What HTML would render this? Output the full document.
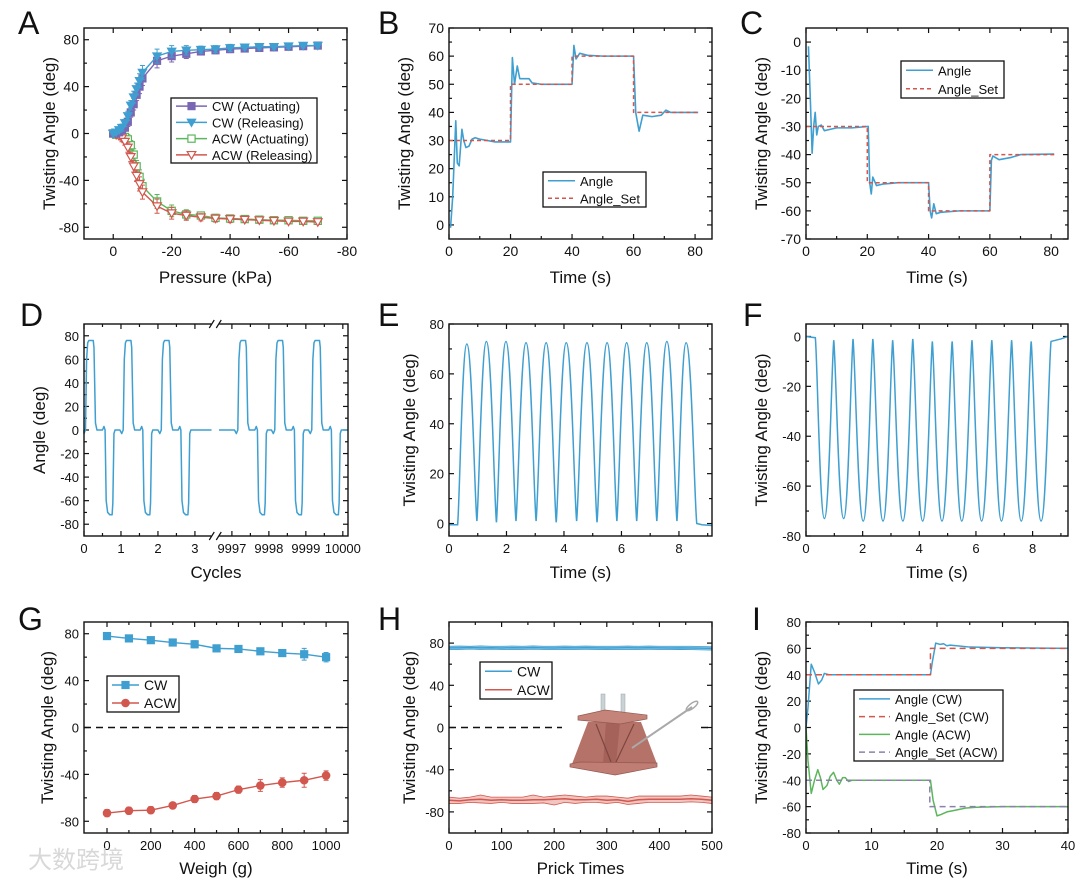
<!DOCTYPE html>
<html><head><meta charset="utf-8">
<style>
html,body{margin:0;padding:0;background:#fff;}
svg{display:block;font-family:"Liberation Sans","Noto Sans CJK SC",sans-serif;}
</style></head>
<body>
<svg id="fig" width="1080" height="883" viewBox="0 0 1080 883" xmlns="http://www.w3.org/2000/svg"></svg>
<script>
// ---------- DATA ----------
// A
const aP=[0,-1,-2,-3,-4,-5,-6,-7,-8,-9,-10,-15,-20,-25,-30,-35,-40,-45,-50,-55,-60,-65,-70];
const aCWact=[0,0,1,3,5,10,18,25,33,40,47,62,66,68,70,71,72,72.5,73,73.5,74,74.5,75];
const aCWrel=[0,1,3,5,9,15,24,31,38,45,52,66,70,71,71.5,72,73,73.5,74,74,74.5,75,75];
const aACWact=[0,-1,-1,-2,-3,-5,-10,-18,-28,-37,-45,-58,-66,-69,-70,-72,-72.5,-73,-73.5,-74,-74,-74.5,-74.5];
const aACWrel=[0,-1,-2,-4,-7,-12,-20,-28,-36,-43,-50,-62,-68,-70,-71.5,-72.5,-73,-73.5,-74,-74.5,-75,-75,-75.5];
const aErr=[1,1,2,3,3,4,4,5,5,6,6,6,5,4,3,3,3,2,2,2,2,2,2];
// B
const bT=[0.5,1.2,2.2,2.7,3.3,4.2,4.8,5.5,6.5,7.5,8.5,10,15,20,20.6,21.3,22.2,23,26,27,30,40,40.6,41.3,42.5,45,50,60,60.7,61.8,63,66,69,70.5,72,81];
const bV=[-1,10,37,22,21,34,30,27.5,28,30.5,31,30.5,29.5,29.5,59.5,50,56.5,52,52,50.5,50,50,63.8,59,61,60.3,60,60,40,33.3,39,38.5,39,40.8,40,40];
const bSetT=[0,20,20,40,40,60,60,81];
const bSetV=[30,30,50,50,60,60,40,40];
// C
const cT=[0.8,1.4,2,2.5,3,3.5,4,5,6,8,10,15,20.3,20.8,21.3,21.8,23,25,30,40,40.5,41,41.7,42.5,44,50,60,60.5,61,63,67,70,81];
const cV=[-1.5,-20,-39.5,-30,-25,-33,-30,-29.5,-31.5,-31,-30.5,-30.5,-30,-50,-54,-48,-51,-50.5,-50,-50,-60,-62.5,-57.5,-61,-60.5,-60,-60,-42,-40.5,-41.8,-41,-40,-39.8];
const cSetT=[0,20,20,40,40,60,60,81];
const cSetV=[-30,-30,-50,-50,-60,-60,-40,-40];
// D
const dStart=[0,1.02,2.05,9997.12,9998.12,9999.12];
const dPos=[76,76,76,76,76,76];
const dNeg=[-72,-72,-72,-72,-72,-72];
const dXTicks=[0,1,2,3,9997,9998,9999,10000];
// E
const ePeakT=[0.62,1.3,1.98,2.68,3.38,4.08,4.8,5.5,6.18,6.88,7.58,8.25];
const ePeakV=[72,73,73,72.5,72.5,72.5,72.5,72.5,72.5,72.5,73,72.5];
const eTroughT=[0.97,1.65,2.33,3.03,3.73,4.44,5.15,5.84,6.53,7.23,7.93];
const eTroughV=[1,0.5,1,1,0.5,1,0.5,1,1,1,1];
// F
const fTroughT=[0.65,1.33,2.02,2.72,3.42,4.12,4.8,5.5,6.2,6.9,7.6,8.3];
const fTroughV=[-73,-73,-74,-74,-74,-74,-74,-74,-74,-74,-74,-74];
const fPeakT=[0.98,1.66,2.36,3.06,3.77,4.46,5.16,5.86,6.56,7.26,7.95];
const fPeakV=[-1.5,-1,-1,-1.5,-1,-2,-2,-1.5,-1.5,-1.5,-2];
// G
const gW=[0,100,200,300,400,500,600,700,800,900,1000];
const gCW=[78,76,74.5,72.5,71,67.5,67,65,63.5,62.5,60];
const gCWerr=[2,2,2,3,3,2,2,2,2,5,4];
const gACW=[-73,-71,-70.5,-66.5,-61,-58.5,-53,-49.5,-47,-45,-41];
const gACWerr=[3,3,3,2,3,3,3,5,4,6,4];
// H
const hX=[0,20,40,60,80,100,120,140,160,180,200,220,240,260,280,300,320,340,360,380,400,420,440,460,480,500];
const hCW=[75.5,75.5,75.8,75.5,75.6,75.4,75.6,75.5,75.7,75.5,75.4,75.6,75.5,75.6,75.5,75.4,75.5,75.6,75.5,75.6,75.5,75.4,75.5,75.3,75.2,75];
const hCWhi=[77,77.2,77,77.3,77,77,77.2,77,77.3,77,77,77.2,77,77.2,77,77,77,77.2,77,77.2,77,77,77,77,76.8,76.5];
const hCWlo=[74,74,74.3,74,74.2,74,74,74,74.2,74,73.8,74,74,74.1,74,73.9,74,74,74,74.1,74,73.8,74,73.8,73.6,73.4];
const hACW=[-69,-69.5,-68.5,-68,-69,-68.5,-69,-69,-68.5,-68.5,-68,-67.5,-68.5,-68.5,-68,-69,-68.5,-70,-68.5,-68,-68,-68,-68,-67.5,-68,-69];
const hACWhi=[-66,-67,-66,-64,-66,-66,-66,-66,-64,-66,-65,-64,-65,-66,-65,-65,-66,-67,-65,-65,-65,-65,-65,-64,-65,-66];
const hACWlo=[-72,-72,-71,-71.5,-72,-71,-72,-72,-72,-71.5,-73.5,-71,-72,-71,-71,-72,-71,-73,-72,-71,-71,-71,-71,-70.5,-71,-72];
// I
const iCWt=[0,0.3,0.8,1.3,1.9,2.4,2.8,3.5,5,10,19,19.3,19.8,20.5,21,21.5,22,23,25,30,40];
const iCWv=[0,15,48,42,33,36,41,40,40,40,40,50,64,63,63.5,62,62.5,62,61,60.5,60];
const iCWsetT=[0,19,19,40];
const iCWsetV=[40,40,60,60];
const iACWt=[0,0.3,0.8,1.3,1.8,2.2,2.6,3.2,3.7,4.2,4.7,5.1,5.6,6,6.5,7,10,19,19.4,20,20.6,21.5,22.5,23.5,24.5,26,30,40];
const iACWv=[0,-25,-50,-40,-32,-38,-47,-44,-37,-34,-40,-43,-38,-38,-41,-40,-40,-40,-55,-67,-66,-64,-63,-62,-61,-60.5,-60,-60];
const iACWsetT=[0,18.9,18.9,40];
const iACWsetV=[-40,-40,-60,-60];

// ---------- HELPERS ----------
const NS='http://www.w3.org/2000/svg';
const svg=document.getElementById('fig');
const BLUE='#3f9fd0',RED='#d2574e',GREEN='#5cb65c',PURPLE='#7a67b3',GRAYP='#8c80ad';
function mk(tag,attrs,parent){const e=document.createElementNS(NS,tag);for(const k in attrs)e.setAttribute(k,attrs[k]);(parent||svg).appendChild(e);return e;}
function txt(s,x,y,size,anchor,parent,extra){const t=mk('text',Object.assign({x:x,y:y,'font-size':size,'text-anchor':anchor||'middle',fill:'#111'},extra||{}),parent);t.textContent=s;return t;}

function axes(id,box,xd,yd,o){
  const g=mk('g',{});
  
  
  const sx=v=>box.l+(v-xd[0])/(xd[1]-xd[0])*(box.r-box.l);
  const sy=v=>box.b-(v-yd[0])/(yd[1]-yd[0])*(box.b-box.t);
  const fs=o.fs||14;
  const ticks=mk('g',{stroke:'#111','stroke-width':1.2},g);
  
  
  (o.xMaj||[]).forEach(v=>{const x=sx(v);mk('line',{x1:x,x2:x,y1:box.b,y2:box.b-5},ticks);mk('line',{x1:x,x2:x,y1:box.t,y2:box.t+5},ticks);});
  (o.xMin||[]).forEach(v=>{const x=sx(v);mk('line',{x1:x,x2:x,y1:box.b,y2:box.b-3},ticks);mk('line',{x1:x,x2:x,y1:box.t,y2:box.t+3},ticks);});
  (o.yMaj||[]).forEach(v=>{const y=sy(v);mk('line',{x1:box.l,x2:box.l+5,y1:y,y2:y},ticks);mk('line',{x1:box.r,x2:box.r-5,y1:y,y2:y},ticks);});
  (o.yMin||[]).forEach(v=>{const y=sy(v);mk('line',{x1:box.l,x2:box.l+3,y1:y,y2:y},ticks);mk('line',{x1:box.r,x2:box.r-3,y1:y,y2:y},ticks);});
  (o.xMaj||[]).forEach((v,i)=>{const t=txt(o.xLabels?o.xLabels[i]:String(v),sx(v),box.b+17,fs,'middle',g);
    
    });
  (o.yMaj||[]).forEach(v=>{const t=txt(String(v),box.l-5,sy(v)+5,fs,'end',g);
    
    });
  const xt=txt(o.xTitle,(box.l+box.r)/2,o.xTitleY,17,'middle',g);
  
  
  const yc=(box.t+box.b)/2;
  const yt=txt(o.yTitle,o.yTitleX,yc,17,'middle',g,{transform:'rotate(-90 '+o.yTitleX+' '+yc+')'});
  
  
  const L=txt(id,o.letter[0],o.letter[1],32,'start',g);
  
  
  return {sx,sy,g,box};
}
function frame(p,id){const f=mk('rect',{x:p.box.l,y:p.box.t,width:p.box.r-p.box.l,height:p.box.b-p.box.t,fill:'none',stroke:'#111','stroke-width':1.4},p.g);
  
  }
function poly(p,xs,ys,stroke,w,dash,name){
  const d=xs.map((x,i)=>(i?'L':'M')+p.sx(x).toFixed(2)+','+p.sy(ys[i]).toFixed(2)).join('');
  const e=mk('path',{d:d,fill:'none',stroke:stroke,'stroke-width':w,'stroke-linejoin':'round'},p.g);
  if(dash)e.setAttribute('stroke-dasharray',dash);
  
  
  return e;
}
// square-ish wave: "flat" extremes wide and rounded, other extremes narrow but rounded
function wavePath(p,pts,isFlat){
  let d='';
  for(let i=1;i<pts.length;i++){const a=pts[i-1],b=pts[i];const dt=b[0]-a[0],dv=b[1]-a[1];
    let c1,c2;
    if(isFlat(b[1])&&!isFlat(a[1])){c1=[a[0]+dt*0.22,a[1]+dv*0.12];c2=[b[0]-dt*0.5,b[1]];}
    else if(isFlat(a[1])&&!isFlat(b[1])){c1=[a[0]+dt*0.5,a[1]];c2=[b[0]-dt*0.22,b[1]-dv*0.12];}
    else {c1=[a[0]+dt*0.45,a[1]];c2=[b[0]-dt*0.45,b[1]];}
    d+='C'+p.sx(c1[0]).toFixed(2)+','+p.sy(c1[1]).toFixed(2)+' '+p.sx(c2[0]).toFixed(2)+','+p.sy(c2[1]).toFixed(2)+' '+p.sx(b[0]).toFixed(2)+','+p.sy(b[1]).toFixed(2);}
  return d;
}
function legend(x,y,w,h,items,parent,id){
  const g=mk('g',{},parent);
  
  
  mk('rect',{x:x,y:y,width:w,height:h,fill:'#fff',stroke:'#111','stroke-width':1.3},g);
  const rh=h/items.length;
  items.forEach((it,i)=>{
    const cy=y+rh*(i+0.5);
    const ln=mk('line',{x1:x+5,x2:x+it.lw,y1:cy,y2:cy,stroke:it.c,'stroke-width':it.w||1.6},g);
    if(it.dash)ln.setAttribute('stroke-dasharray',it.dash);
    if(it.m)marker(it.m,x+5+(it.lw-5)/2,cy,it.c,g);
    const t=txt(it.t,x+it.lw+5,cy+5,it.fs||13,'start',g);
    
    
  });
}
function marker(type,x,y,c,parent){
  let e;const s=3.6;
  if(type==='sq')e=mk('rect',{x:x-s,y:y-s,width:2*s,height:2*s,fill:c,stroke:c},parent);
  else if(type==='osq')e=mk('rect',{x:x-s,y:y-s,width:2*s,height:2*s,fill:'#fff',stroke:c,'stroke-width':1.2},parent);
  else if(type==='tri')e=mk('polygon',{points:(x-4.3)+','+(y-3.3)+' '+(x+4.3)+','+(y-3.3)+' '+x+','+(y+4.2),fill:c,stroke:c},parent);
  else if(type==='otri')e=mk('polygon',{points:(x-4.3)+','+(y-3.3)+' '+(x+4.3)+','+(y-3.3)+' '+x+','+(y+4.2),fill:'#fff',stroke:c,'stroke-width':1.2},parent);
  else if(type==='circ')e=mk('circle',{cx:x,cy:y,r:3.8,fill:c,stroke:c},parent);
  return e;
}
function errSeries(p,xs,ys,errs,c,m,name){
  const g=mk('g',{},p.g);
  
  
  xs.forEach((x,i)=>{const X=p.sx(x),y1=p.sy(ys[i]-errs[i]),y2=p.sy(ys[i]+errs[i]);
    mk('path',{d:'M'+X+','+y1+'V'+y2+'M'+(X-2.5)+','+y1+'H'+(X+2.5)+'M'+(X-2.5)+','+y2+'H'+(X+2.5),stroke:c,'stroke-width':1,fill:'none'},g);});
  const d=xs.map((x,i)=>(i?'L':'M')+p.sx(x)+','+p.sy(ys[i])).join('');
  mk('path',{d:d,fill:'none',stroke:c,'stroke-width':1.4},g);
  xs.forEach((x,i)=>{const mm=marker(m,p.sx(x),p.sy(ys[i]),c,g);
    
    });
}

// ---------- PANEL A ----------
const pA=axes('A',{l:84,r:347,t:28,b:239},[10,-80],[-90,90],{fs:14,xMaj:[0,-20,-40,-60,-80],xMin:[-10,-30,-50,-70],yMaj:[-80,-40,0,40,80],yMin:[-60,-20,20,60],xTitle:'Pressure (kPa)',xTitleY:283,yTitle:'Twisting Angle (deg)',yTitleX:55,letter:[18,34]});
errSeries(pA,aP,aACWact,aErr,GREEN,'osq','series-acw-actuating');
errSeries(pA,aP,aACWrel,aErr,RED,'otri','series-acw-releasing');
errSeries(pA,aP,aCWact,aErr,PURPLE,'sq','series-cw-actuating');
errSeries(pA,aP,aCWrel,aErr,BLUE,'tri','series-cw-releasing');
legend(171,98,146,65,[{t:'CW (Actuating)',c:PURPLE,lw:36,m:'sq'},{t:'CW (Releasing)',c:BLUE,lw:36,m:'tri'},{t:'ACW (Actuating)',c:GREEN,lw:36,m:'osq'},{t:'ACW (Releasing)',c:RED,lw:36,m:'otri'}],pA.g,'A');
frame(pA,'A');

// ---------- PANEL B ----------
const pB=axes('B',{l:449,r:712,t:28,b:239},[0,85.5],[-5,70],{fs:14,xMaj:[0,20,40,60,80],xMin:[10,30,50,70],yMaj:[0,10,20,30,40,50,60,70],yMin:[5,15,25,35,45,55,65],xTitle:'Time (s)',xTitleY:283,yTitle:'Twisting Angle (deg)',yTitleX:410,letter:[378,34]});
poly(pB,bT,bV,BLUE,1.6,null,'series-angle-b');
poly(pB,bSetT,bSetV,RED,1.5,'4,3','series-angle-set-b');
legend(543,172,103,35,[{t:'Angle',c:BLUE,lw:32},{t:'Angle_Set',c:RED,lw:32,dash:'4,3'}],pB.g,'B');
frame(pB,'B');

// ---------- PANEL C ----------
const pC=axes('C',{l:806,r:1068,t:28,b:239},[0,85.5],[-70,5],{fs:14,xMaj:[0,20,40,60,80],xMin:[10,30,50,70],yMaj:[0,-10,-20,-30,-40,-50,-60,-70],yMin:[-5,-15,-25,-35,-45,-55,-65],xTitle:'Time (s)',xTitleY:283,yTitle:'Twisting Angle (deg)',yTitleX:767,letter:[740,34]});
poly(pC,cT,cV,BLUE,1.6,null,'series-angle-c');
poly(pC,cSetT,cSetV,RED,1.5,'4,3','series-angle-set-c');
legend(901,61,103,37,[{t:'Angle',c:BLUE,lw:32},{t:'Angle_Set',c:RED,lw:32,dash:'4,3'}],pC.g,'C');
frame(pC,'C');

// ---------- PANEL D ----------
const dU=c=>c>5000?c-9993:c;
const pD=axes('D',{l:84,r:348,t:324,b:536},[0,7.14],[-90,90],{fs:13,xMaj:dXTicks.map(dU),xLabels:dXTicks.map(String),xMin:[0.5,1.5,2.5,4.5,5.5,6.5],yMaj:[-80,-60,-40,-20,0,20,40,60,80],yMin:[-70,-50,-30,-10,10,30,50,70],xTitle:'Cycles',xTitleY:578,yTitle:'Angle (deg)',yTitleX:45,letter:[20,326]});
(function(){
  const tpl=[[-0.05,0],[0,-3],[0.04,0],[0.07,60],[0.1,74],[0.13,76],[0.25,76],[0.27,70],[0.31,6],[0.35,0],[0.5,0],[0.54,3],[0.57,0],[0.6,-60],[0.64,-70],[0.7,-72],[0.76,-72],[0.78,-62],[0.81,-3],[0.84,0]];
  function seg(a,b,idx){const pts=[[a,0]];idx.forEach(i=>{const s=dU(dStart[i]);tpl.forEach(q=>{const v=q[1]>0?q[1]*dPos[i]/76:q[1]*(-dNeg[i])/72;pts.push([s+q[0],v]);});});pts.push([b,0]);
    return pts.filter(q=>q[0]>=a&&q[0]<=b);}
  const s1=seg(0,3.45,[0,1,2]),s2=seg(3.65,7.14,[3,4,5]);
  poly(pD,s1.map(q=>q[0]),s1.map(q=>q[1]),BLUE,1.5,null,'series-angle-d-early');
  poly(pD,s2.map(q=>q[0]),s2.map(q=>q[1]),BLUE,1.5,null,'series-angle-d-late');
})();
frame(pD,'D');
(function(){const bx=pD.sx(3.55);
  [324,536].forEach(y=>{mk('rect',{x:bx-4,y:y-3,width:8,height:6,fill:'#fff'},pD.g);
    const br=mk('path',{d:'M'+(bx-6)+','+(y+4)+'L'+(bx-1)+','+(y-4)+'M'+(bx+1)+','+(y+4)+'L'+(bx+6)+','+(y-4),stroke:'#111','stroke-width':1.2,fill:'none'},pD.g);
    
    });})();

// ---------- PANEL E ----------
const pE=axes('E',{l:449,r:712,t:324,b:536},[0,9.15],[-5,80],{fs:13,xMaj:[0,2,4,6,8],xMin:[1,3,5,7,9],yMaj:[0,20,40,60,80],yMin:[10,30,50,70],xTitle:'Time (s)',xTitleY:578,yTitle:'Twisting Angle (deg)',yTitleX:415,letter:[378,326]});
(function(){
  const pts=[[0.3,-0.5]];
  ePeakT.forEach((t,i)=>{pts.push([t,ePeakV[i]]);if(i<eTroughT.length)pts.push([eTroughT[i],eTroughV[i]]);});
  pts.push([8.62,0]);
  const d='M'+pE.sx(0)+','+pE.sy(-0.5)+'L'+pE.sx(0.3)+','+pE.sy(-0.5)+wavePath(pE,pts,v=>v>40)+'L'+pE.sx(8.8)+','+pE.sy(-0.5)+'L'+pE.sx(9.15)+','+pE.sy(-0.8);
  const e=mk('path',{d:d,fill:'none',stroke:BLUE,'stroke-width':1.5},pE.g);
  
  
})();
frame(pE,'E');

// ---------- PANEL F ----------
const pF=axes('F',{l:806,r:1068,t:324,b:536},[0,9.25],[-80,5],{fs:13,xMaj:[0,2,4,6,8],xMin:[1,3,5,7,9],yMaj:[0,-20,-40,-60,-80],yMin:[-10,-30,-50,-70],xTitle:'Time (s)',xTitleY:578,yTitle:'Twisting Angle (deg)',yTitleX:767,letter:[743,326]});
(function(){
  const pts=[[0.33,-0.5]];
  fTroughT.forEach((t,i)=>{pts.push([t,fTroughV[i]]);if(i<fPeakT.length)pts.push([fPeakT[i],fPeakV[i]]);});
  pts.push([8.65,-2]);
  const d='M'+pF.sx(0)+','+pF.sy(0)+'L'+pF.sx(0.33)+','+pF.sy(-0.5)+wavePath(pF,pts,v=>v<-40)+'L'+pF.sx(9)+','+pF.sy(-1)+'L'+pF.sx(9.25)+','+pF.sy(0);
  const e=mk('path',{d:d,fill:'none',stroke:BLUE,'stroke-width':1.5},pF.g);
  
  
})();
frame(pF,'F');

// ---------- PANEL G ----------
const pG=axes('G',{l:84,r:348,t:622,b:833},[-105,1100],[-90,90],{fs:13,xMaj:[0,200,400,600,800,1000],xMin:[100,300,500,700,900],yMaj:[-80,-40,0,40,80],yMin:[-60,-20,20,60],xTitle:'Weigh (g)',xTitleY:874,yTitle:'Twisting Angle (deg)',yTitleX:53,letter:[18,630]});
(function(){const z=mk('line',{x1:84,x2:348,y1:pG.sy(0),y2:pG.sy(0),stroke:'#111','stroke-width':1.5,'stroke-dasharray':'7,5'},pG.g);
  
  })();
errSeries(pG,gW,gCW,gCWerr,BLUE,'sq','series-cw-g');
errSeries(pG,gW,gACW,gACWerr,RED,'circ','series-acw-g');
legend(107,676,72,36,[{t:'CW',c:BLUE,lw:32,m:'sq',fs:14},{t:'ACW',c:RED,lw:32,m:'circ',fs:14}],pG.g,'G');
frame(pG,'G');
(function(){const w=txt('大数跨境',76,868,24,'middle',svg,{fill:'#d8d8d8'});
  
  })();

// ---------- PANEL H ----------
const pH=axes('H',{l:449,r:712,t:622,b:833},[0,500],[-100,100],{fs:13,xMaj:[0,100,200,300,400,500],xMin:[50,150,250,350,450],yMaj:[-80,-40,0,40,80],yMin:[-60,-20,20,60],xTitle:'Prick Times',xTitleY:874,yTitle:'Twisting Angle (deg)',yTitleX:415,letter:[378,630]});
(function(){
  const z=mk('line',{x1:449,x2:712,y1:pH.sy(0),y2:pH.sy(0),stroke:'#111','stroke-width':1.5,'stroke-dasharray':'7,5'},pH.g);
  
  
  function band(hi,lo,fill,name){const d=hX.map((x,i)=>(i?'L':'M')+pH.sx(x)+','+pH.sy(hi[i])).join('')+hX.slice().reverse().map((x,j)=>{const i=hX.length-1-j;return 'L'+pH.sx(x)+','+pH.sy(lo[i]);}).join('')+'Z';
    const e=mk('path',{d:d,fill:fill,stroke:'none'},pH.g);
    
    }
  band(hCWhi,hCWlo,'#a9d6ee','band-cw-h');
  band(hACWhi,hACWlo,'#f1c6c1','band-acw-h');
  poly(pH,hX,hCWhi,BLUE,0.8,null,'series-cw-h-upper');
  poly(pH,hX,hCWlo,BLUE,0.8,null,'series-cw-h-lower');
  poly(pH,hX,hCW,BLUE,1.5,null,'series-cw-h');
  poly(pH,hX,hACWhi,RED,0.8,null,'series-acw-h-upper');
  poly(pH,hX,hACWlo,RED,0.8,null,'series-acw-h-lower');
  poly(pH,hX,hACW,RED,1.5,null,'series-acw-h');
  const ins=mk('g',{},pH.g);
  
  
  mk('rect',{x:562,y:690,width:136,height:88,fill:'#fff'},ins);
  mk('rect',{x:601,y:694,width:4,height:24,fill:'#c9d2d4',stroke:'#9aa5a8','stroke-width':0.5},ins);
  mk('rect',{x:621,y:694,width:4,height:24,fill:'#c9d2d4',stroke:'#9aa5a8','stroke-width':0.5},ins);
  mk('polygon',{points:'588,722 641,722 657,764 572,764',fill:'#b57268'},ins);
  mk('polygon',{points:'606,722 620,722 616,764 603,764',fill:'#a5625a'},ins);
  mk('path',{d:'M596,724 L611,762 M634,724 L616,762',stroke:'#7e4640','stroke-width':1.2,fill:'none'},ins);
  mk('polygon',{points:'578,716 605,710 647,715 647,719 620,724 578,720',fill:'#c4847a',stroke:'#935952','stroke-width':0.7},ins);
  mk('polygon',{points:'570,764 580,762 657,763 657,767 615,775 570,767',fill:'#bf7d73',stroke:'#935952','stroke-width':0.7},ins);
  mk('line',{x1:632,y1:748,x2:692,y2:707,stroke:'#a9a9a9','stroke-width':2},ins);
  mk('ellipse',{cx:692,cy:706,rx:7,ry:2.5,transform:'rotate(-38 692 706)',fill:'none',stroke:'#a9a9a9','stroke-width':1.5},ins);
})();
legend(480,662,72,37,[{t:'CW',c:BLUE,lw:32,fs:14},{t:'ACW',c:RED,lw:32,fs:14}],pH.g,'H');
frame(pH,'H');

// ---------- PANEL I ----------
const pI=axes('I',{l:806,r:1068,t:622,b:833},[0,40],[-80,80],{fs:13,xMaj:[0,10,20,30,40],xMin:[5,15,25,35],yMaj:[-80,-60,-40,-20,0,20,40,60,80],yMin:[-70,-50,-30,-10,10,30,50,70],xTitle:'Time (s)',xTitleY:874,yTitle:'Twisting Angle (deg)',yTitleX:767,letter:[752,630]});
poly(pI,iCWt,iCWv,BLUE,1.5,null,'series-angle-cw-i');
poly(pI,iCWsetT,iCWsetV,RED,1.5,'6,4','series-angle-set-cw-i');
poly(pI,iACWt,iACWv,GREEN,1.5,null,'series-angle-acw-i');
poly(pI,iACWsetT,iACWsetV,GRAYP,1.5,'6,4','series-angle-set-acw-i');
legend(854,690,149,71,[{t:'Angle (CW)',c:BLUE,lw:36},{t:'Angle_Set (CW)',c:RED,lw:36,dash:'6,4'},{t:'Angle (ACW)',c:GREEN,lw:36},{t:'Angle_Set (ACW)',c:GRAYP,lw:36,dash:'6,4'}],pI.g,'I');
frame(pI,'I');
</script>
</body></html>
